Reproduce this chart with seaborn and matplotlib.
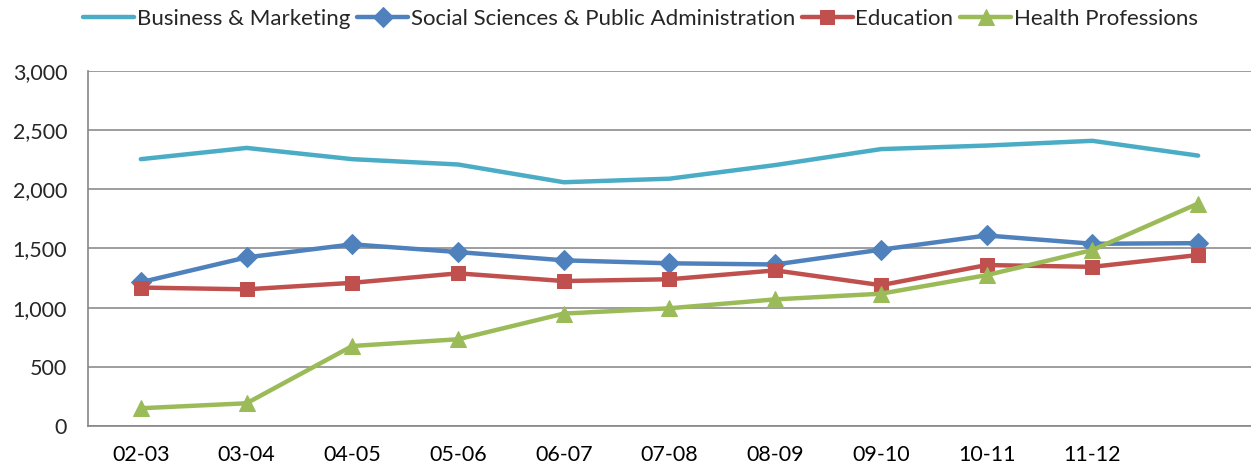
import matplotlib
matplotlib.use("Agg")
import matplotlib.pyplot as plt
from matplotlib.ticker import FixedLocator, FuncFormatter
import seaborn as sns
import pandas as pd

# school years (last one is not labelled in the original chart)
years = ["02-03", "03-04", "04-05", "05-06", "06-07", "07-08",
         "08-09", "09-10", "10-11", "11-12", "12-13"]
tick_labels = ["02-03", "03-04", "04-05", "05-06", "06-07", "07-08",
               "08-09", "09-10", "10-11", "11-12", ""]

business = [2255, 2350, 2255, 2210, 2060, 2090, 2205, 2340, 2370, 2410, 2285]
social = [1215, 1425, 1535, 1470, 1400, 1375, 1365, 1490, 1610, 1540, 1545]
education = [1170, 1155, 1210, 1290, 1225, 1240, 1315, 1190, 1360, 1345, 1445]
health = [150, 192, 676, 733, 950, 995, 1070, 1118, 1275, 1487, 1880]

series_names = ["Business & Marketing", "Social Sciences & Public Administration",
                "Education", "Health Professions"]
series_values = [business, social, education, health]
colors = ["#4BACC6", "#4F81BD", "#C0504D", "#9BBB59"]
markers = [None, "D", "s", "^"]
msizes = [0, 10, 10.5, 12]

df = pd.DataFrame({
    "pos": list(range(len(years))) * len(series_names),
    "value": sum(series_values, []),
    "series": [n for n in series_names for _ in years],
})

sns.set_style("white")
plt.rcParams["font.family"] = ["Lato", "DejaVu Sans"]

fig = plt.figure(figsize=(12.51, 4.69), dpi=100)
ax = fig.add_axes([0.0703, 0.0917, 0.9297, 0.7569])

for name, col, mk, ms in zip(series_names, colors, markers, msizes):
    sub = df[df["series"] == name]
    sns.lineplot(data=sub, x="pos", y="value", ax=ax, color=col, lw=3.2,
                 marker=mk, markersize=ms, markeredgecolor=col, label=name,
                 sort=False, clip_on=False, zorder=3)

ax.set_xlim(-0.5, len(years) - 0.5)
ax.set_ylim(0, 3000)
ax.set_yticks(range(0, 3001, 500))
ax.yaxis.set_major_formatter(FuncFormatter(lambda v, p: f"{int(v):,}"))
ax.set_xticks(range(len(years)))
ax.set_xticklabels(tick_labels)
ax.xaxis.set_minor_locator(FixedLocator([i + 0.5 for i in range(len(years) - 1)]))
ax.tick_params(axis="x", which="major", length=0, pad=14, labelsize=15.5, colors="black")
ax.tick_params(axis="x", which="minor", length=7, width=1.2, color="#868686", direction="out")
ax.tick_params(axis="y", which="major", length=7, width=1.2, color="#868686",
               direction="out", labelsize=15.5, pad=8)
ax.grid(axis="y", color="#8C8C8C", lw=1.2)
ax.set_axisbelow(True)
for s in ["top", "right"]:
    ax.spines[s].set_visible(False)
for s in ["left", "bottom"]:
    ax.spines[s].set_color("#868686")
    ax.spines[s].set_linewidth(1.2)
ax.set_xlabel("")
ax.set_ylabel("")

ax.legend_.remove()
handles, labels = ax.get_legend_handles_labels()
fig.legend(handles, labels, loc="upper center", bbox_to_anchor=(0.512, 1.01), ncol=4,
           frameon=False, fontsize=16, handlelength=2.3, handletextpad=0.12,
           columnspacing=0.3, borderaxespad=0.2)

fig.savefig("out.png", dpi=100)
